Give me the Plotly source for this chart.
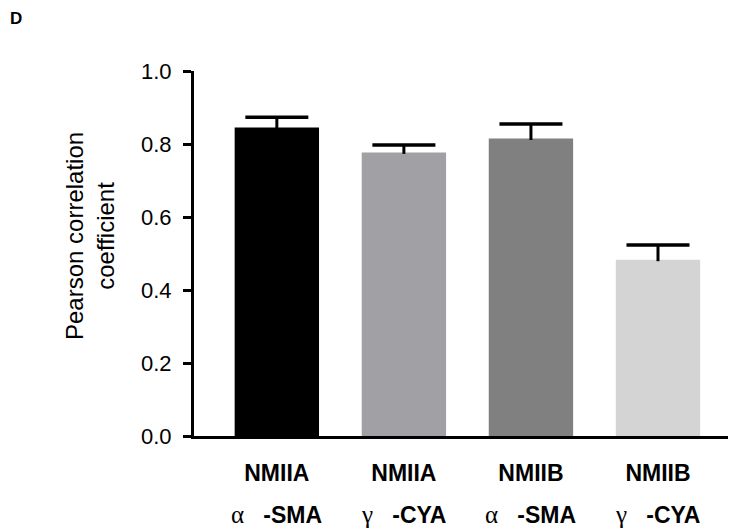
import plotly.graph_objects as go

categories = ["NMIIA α-SMA", "NMIIA γ-CYA", "NMIIB α-SMA", "NMIIB γ-CYA"]
line1 = ["NMIIA", "NMIIA", "NMIIB", "NMIIB"]
greek = ["α", "γ", "α", "γ"]
line2 = ["-SMA", "-CYA", "-SMA", "-CYA"]
means = [0.845, 0.777, 0.815, 0.483]
sem = [0.028, 0.020, 0.040, 0.040]
colors = ["#000000", "#a1a0a5", "#808080", "#d4d4d4"]
yticks = [0.0, 0.2, 0.4, 0.6, 0.8, 1.0]

NB = "\u00a0"
# page body has an 8px margin; figure is sized to fit the 736x529 window
W, H = 728, 521
L, T = 186, 63
PW = W - L
PH = 365
B = H - T - PH

fig = go.Figure()
fig.add_trace(go.Bar(
    x=categories, y=means, marker=dict(color=colors, line=dict(width=0)),
    showlegend=False,
))

# error stems
ex, ey = [], []
for c, m, s in zip(categories, means, sem):
    ex += [c, c, None]
    ey += [m - 0.004, m + s, None]
fig.add_trace(go.Scatter(x=ex, y=ey, mode="lines",
                         line=dict(color="black", width=3), showlegend=False,
                         hoverinfo="skip"))
# error caps
fig.add_trace(go.Scatter(x=categories, y=[m + s for m, s in zip(means, sem)],
                         mode="markers",
                         marker=dict(symbol="line-ew", size=45,
                                     line=dict(color="black", width=3.5)),
                         showlegend=False, hoverinfo="skip"))

fig.update_layout(
    width=W, height=H,
    margin=dict(l=L, r=0, t=T, b=B),
    plot_bgcolor="white", paper_bgcolor="white",
    bargap=0.336,
    font=dict(family="Liberation Sans, Arial", color="black"),
)
fig.update_xaxes(
    range=[-0.652, 3.614], tickmode="array", tickvals=categories,
    ticktext=[f"<b>{a}</b>" for a in line1],
    tickfont=dict(size=23), showline=True, linecolor="black", linewidth=3,
    ticks="", showgrid=False, zeroline=False, ticklabelstandoff=14,
)
fig.update_yaxes(
    range=[0, 1], tickmode="array", tickvals=yticks,
    ticktext=[f"{v:.1f}" for v in yticks],
    tickfont=dict(size=22), showline=True, linecolor="black", linewidth=3,
    ticks="outside", ticklen=8, tickwidth=3, tickcolor="black",
    showgrid=False, zeroline=False, ticklabelstandoff=7,
)
# second line of category labels
for c, g, b in zip(categories, greek, line2):
    fig.add_annotation(
        text=f"<span style='font-family:Liberation Serif;font-size:25px'>{g}</span>{NB*3}<b>{b}</b>",
        x=c, xref="x", yref="paper", y=-(515 - 8 - (T + PH)) / PH,
        xanchor="center", yanchor="middle", showarrow=False,
        font=dict(size=23, family="Liberation Sans, Arial"),
    )
fig.add_annotation(
    text="Pearson correlation<br>coefficient", textangle=-90,
    xref="paper", yref="paper", x=(90 - 8 - L) / PW, y=(T + PH - (236 - 8)) / PH,
    xanchor="center", yanchor="middle",
    showarrow=False, font=dict(size=24, family="Liberation Sans, Arial"),
)
fig.add_annotation(
    text="<b>D</b>", xref="paper", yref="paper",
    x=(16 - 8 - L) / PW, y=(T + PH - (19 - 8)) / PH, xanchor="center", yanchor="middle",
    showarrow=False, font=dict(size=17, family="Liberation Sans, Arial"),
)
fig.write_html("out.html")
